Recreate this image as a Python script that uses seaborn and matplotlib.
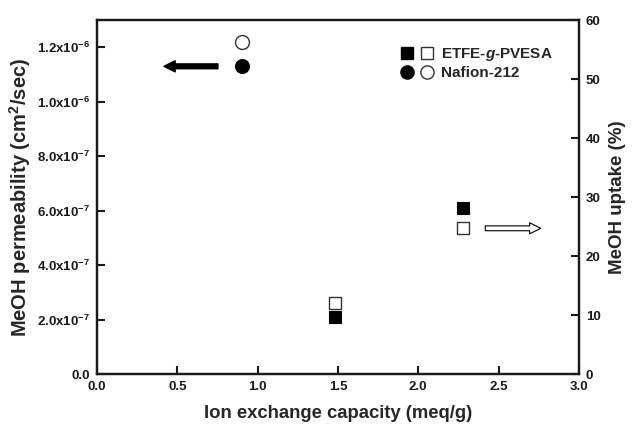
import matplotlib
matplotlib.use("Agg")
import matplotlib.pyplot as plt
import pandas as pd
import seaborn as sns
from matplotlib.legend_handler import HandlerTuple
from matplotlib.lines import Line2D

# values
iec = [0.90, 1.48, 2.28]
membrane = ["Nafion-212", "ETFE-g-PVESA", "ETFE-g-PVESA"]
permeability = [1.13e-6, 2.09e-7, 6.09e-7]
uptake = [56.3, 12.0, 24.7]

perm_ticks = [0, 2e-7, 4e-7, 6e-7, 8e-7, 1.0e-6, 1.2e-6]
perm_labels = ["0.0", r"2.0x10$^{-7}$", r"4.0x10$^{-7}$", r"6.0x10$^{-7}$",
               r"8.0x10$^{-7}$", r"1.0x10$^{-6}$", r"1.2x10$^{-6}$"]
uptake_ticks = [0, 10, 20, 30, 40, 50, 60]
x_ticks = [0.0, 0.5, 1.0, 1.5, 2.0, 2.5, 3.0]

df = pd.DataFrame({"iec": iec, "membrane": membrane,
                   "permeability": permeability, "uptake": uptake})

sns.set_style("ticks")
plt.rcParams["font.family"] = ["Liberation Sans", "DejaVu Sans"]
plt.rcParams["font.weight"] = "bold"
plt.rcParams["mathtext.fontset"] = "custom"
plt.rcParams["mathtext.rm"] = "Liberation Sans:bold"
plt.rcParams["mathtext.it"] = "Liberation Sans:italic:bold"
plt.rcParams["mathtext.bf"] = "Liberation Sans:bold"

markers = {"Nafion-212": "o", "ETFE-g-PVESA": "s"}
sizes = {"o": 100, "s": 80}
INK = "#1a1a1a"

fig, ax = plt.subplots(figsize=(6.34, 4.26), dpi=100)
ax2 = ax.twinx()

for name, sub in df.groupby("membrane"):
    m = markers[name]
    sns.scatterplot(data=sub, x="iec", y="permeability", ax=ax, marker=m,
                    s=sizes[m], color="black", edgecolor="black", linewidth=0.8,
                    legend=False, zorder=3)
    sns.scatterplot(data=sub, x="iec", y="uptake", ax=ax2, marker=m,
                    s=sizes[m], color="white", edgecolor="#333333", linewidth=1.0,
                    legend=False, zorder=3)

ax.set_xlim(0, 3.0)
ax.set_ylim(0, 1.3e-6)
ax2.set_ylim(0, 60)
ax.set_xticks(x_ticks)
ax.set_xticklabels([f"{t:.1f}" for t in x_ticks])
ax.set_yticks(perm_ticks)
ax.set_yticklabels(perm_labels)
ax2.set_yticks(uptake_ticks)

ax.set_xlabel("Ion exchange capacity (meq/g)", fontsize=13.3, fontweight="bold", labelpad=9)
ax.set_ylabel("MeOH permeability (cm$^2$/sec)", fontsize=14.5, fontweight="bold", labelpad=3)
ax2.set_ylabel("MeOH uptake (%)", fontsize=13.5, fontweight="bold", labelpad=6)

for a in (ax, ax2):
    a.tick_params(direction="in", length=6, width=1.5, labelsize=9.5, pad=5,
                  color=INK, labelcolor=INK)
    for s in a.spines.values():
        s.set_linewidth(1.6)
        s.set_color(INK)
        s.set_visible(True)

# direction arrows
ax.annotate("", xy=(0.40, permeability[0]), xytext=(0.77, permeability[0]),
            arrowprops=dict(arrowstyle="simple,head_length=0.8,head_width=0.8,tail_width=0.35",
                            fc="black", ec="black"))
ax2.annotate("", xy=(2.78, uptake[2]), xytext=(2.40, uptake[2]),
             arrowprops=dict(arrowstyle="simple,head_length=0.8,head_width=0.8,tail_width=0.35",
                             fc="white", ec="black", lw=0.8))

h_etfe = (Line2D([], [], ls="", marker="s", ms=8.5, mfc="black", mec="black"),
          Line2D([], [], ls="", marker="s", ms=8.5, mfc="white", mec="#333333"))
h_naf = (Line2D([], [], ls="", marker="o", ms=9.5, mfc="black", mec="black"),
         Line2D([], [], ls="", marker="o", ms=9.5, mfc="white", mec="#333333"))
ax2.legend([h_etfe, h_naf], [r"ETFE-$\mathit{g}$-PVESA", "Nafion-212"],
           handler_map={tuple: HandlerTuple(ndivide=None, pad=0.5)},
           loc="upper right", bbox_to_anchor=(0.975, 0.965), frameon=False,
           fontsize=11, handlelength=2.2, handletextpad=0.5, labelspacing=0.2)

fig.subplots_adjust(left=0.153, right=0.913, top=0.953, bottom=0.122)
fig.savefig("out.png", dpi=100)
